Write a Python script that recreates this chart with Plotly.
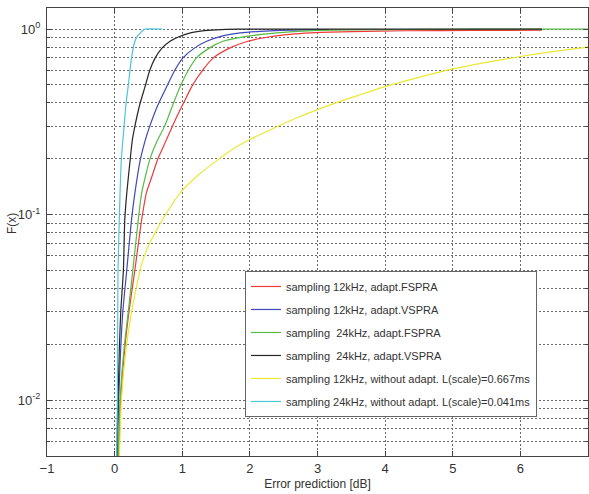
import plotly.graph_objects as go

# ---- data ----
names = [
    "sampling 12kHz, adapt.FSPRA",
    "sampling 12kHz, adapt.VSPRA",
    "sampling  24kHz, adapt.FSPRA",
    "sampling  24kHz, adapt.VSPRA",
    "sampling 12kHz, without adapt. L(scale)=0.667ms",
    "sampling 24kHz, without adapt. L(scale)=0.041ms",
]

red_x = [0.06, 0.09, 0.15, 0.21, 0.30, 0.40, 0.47, 0.55, 0.64, 0.76, 0.89, 1.02, 1.14, 1.30, 1.46, 1.70, 1.97, 2.30, 2.60, 2.90, 3.20, 3.50, 4.30, 5.30, 6.32]
red_y = [0.0048, 0.01, 0.019, 0.0296, 0.0505, 0.094, 0.131, 0.16, 0.20, 0.25, 0.32, 0.40, 0.49, 0.60, 0.70, 0.79, 0.86, 0.91, 0.937, 0.954, 0.964, 0.970, 0.980, 0.984, 0.986]

blue_x = [0.04, 0.06, 0.09, 0.12, 0.18, 0.25, 0.30, 0.38, 0.45, 0.52, 0.64, 0.77, 0.89, 1.01, 1.18, 1.36, 1.60, 1.86, 2.15, 2.45, 2.80, 3.15]
blue_y = [0.0048, 0.01, 0.019, 0.0296, 0.0505, 0.094, 0.131, 0.198, 0.25, 0.30, 0.39, 0.49, 0.60, 0.70, 0.79, 0.86, 0.92, 0.954, 0.973, 0.985, 0.991, 0.995]

green_x = [0.05, 0.08, 0.14, 0.20, 0.27, 0.35, 0.40, 0.52, 0.63, 0.74, 0.86, 0.97, 1.09, 1.21, 1.40, 1.60, 2.00, 2.40, 2.70, 3.00, 3.50, 4.00, 4.60, 5.30, 7.00]
green_y = [0.0048, 0.01, 0.019, 0.0296, 0.0505, 0.094, 0.131, 0.198, 0.25, 0.30, 0.39, 0.49, 0.60, 0.70, 0.79, 0.86, 0.92, 0.954, 0.973, 0.985, 0.991, 0.994, 0.997, 0.999, 1.0]

black_x = [0.03, 0.05, 0.07, 0.09, 0.13, 0.15, 0.18, 0.23, 0.26, 0.30, 0.37, 0.45, 0.52, 0.60, 0.70, 0.82, 0.95, 1.12, 1.30, 1.50, 1.65, 1.81, 6.32]
black_y = [0.0048, 0.01, 0.019, 0.0296, 0.0505, 0.094, 0.131, 0.198, 0.25, 0.30, 0.39, 0.49, 0.60, 0.70, 0.79, 0.86, 0.91, 0.954, 0.978, 0.99, 0.996, 1.0, 1.0]

yellow_x = [0.07, 0.10, 0.17, 0.25, 0.38, 0.42, 0.50, 0.60, 0.70, 0.97, 1.25, 1.53, 1.75, 2.00, 2.35, 2.70, 3.04, 3.50, 4.00, 4.50, 5.00, 5.50, 6.00, 6.50, 7.00]
yellow_y = [0.0048, 0.01, 0.019, 0.0296, 0.0505, 0.057, 0.068, 0.080, 0.093, 0.131, 0.165, 0.198, 0.226, 0.254, 0.292, 0.333, 0.373, 0.427, 0.49, 0.55, 0.61, 0.662, 0.712, 0.758, 0.80]

cyan_x = [0.03, 0.04, 0.05, 0.08, 0.10, 0.14, 0.17, 0.20, 0.25, 0.30, 0.34, 0.38, 0.42, 0.45, 0.70]
cyan_y = [0.0048, 0.01, 0.05, 0.13, 0.20, 0.30, 0.40, 0.49, 0.70, 0.86, 0.92, 0.954, 0.985, 1.0, 1.0]

xs = [red_x, blue_x, green_x, black_x, yellow_x, cyan_x]
ys = [red_y, blue_y, green_y, black_y, yellow_y, cyan_y]
colors = ["#f03a3a", "#3f48b8", "#58ba45", "#262626", "#ece832", "#4cc6d8"]

y_major = [0.01, 0.1, 1]
y_major_text = ["10<sup>-2</sup>", "10<sup>-1</sup>", "10<sup>0</sup>"]
y_minor = [m * d for d in (0.001, 0.01, 0.1) for m in range(2, 10)]

fig = go.Figure()
for i, (n, x, y, c) in enumerate(zip(names, xs, ys, colors)):
    fig.add_trace(go.Scatter(x=x, y=y, mode="lines", name=n,
                             line=dict(color=c, width=1.2, shape="spline", smoothing=0.6),
                             legendgroup=f"g{i}"))

gridc = "#6a6a6a"
axc = "#444444"
fig.update_layout(
    width=589, height=494,
    margin=dict(l=47, r=1, t=8, b=38),
    paper_bgcolor="white", plot_bgcolor="white",
    font=dict(family="Liberation Sans, Arial, sans-serif", size=12, color="#333333"),
    showlegend=True,
    legend=dict(x=0.366, y=0.413, xanchor="left", yanchor="top",
                bgcolor="white", bordercolor="#666666", borderwidth=1,
                font=dict(size=11, color="#333333"),
                tracegroupgap=4, itemwidth=30),
    xaxis=dict(range=[-1, 7], dtick=1, tick0=0,
               showgrid=True, gridcolor=gridc, griddash="2px,2px", gridwidth=1,
               zeroline=False, showline=True, linecolor=axc, linewidth=1,
               mirror="ticks", ticks="inside", ticklen=5, tickcolor=axc,
               tickfont=dict(size=13),
               title=dict(text="Error prediction [dB]", font=dict(size=12), standoff=5)),
    yaxis=dict(type="log", range=[-2.30103, 0.1139],
               tickvals=y_major, ticktext=y_major_text,
               showgrid=True, gridcolor=gridc, griddash="2px,2px", gridwidth=1,
               zeroline=False, showline=True, linecolor=axc, linewidth=1,
               mirror="ticks", ticks="inside", ticklen=5, tickcolor=axc,
               tickfont=dict(size=13), ticklabelstandoff=3,
               minor=dict(tickvals=y_minor, showgrid=True, gridcolor=gridc,
                          griddash="2px,2px", gridwidth=1,
                          ticks="inside", ticklen=3, tickcolor=axc)),
    annotations=[dict(text="F(x)", xref="paper", yref="paper", x=-0.0647, y=0.52,
                      xanchor="center", yanchor="middle", textangle=-90,
                      showarrow=False, font=dict(size=12, color="#333333"))],
)

fig.write_html("out.html", config={"displayModeBar": False},
               post_script="document.body.style.margin='0';")
